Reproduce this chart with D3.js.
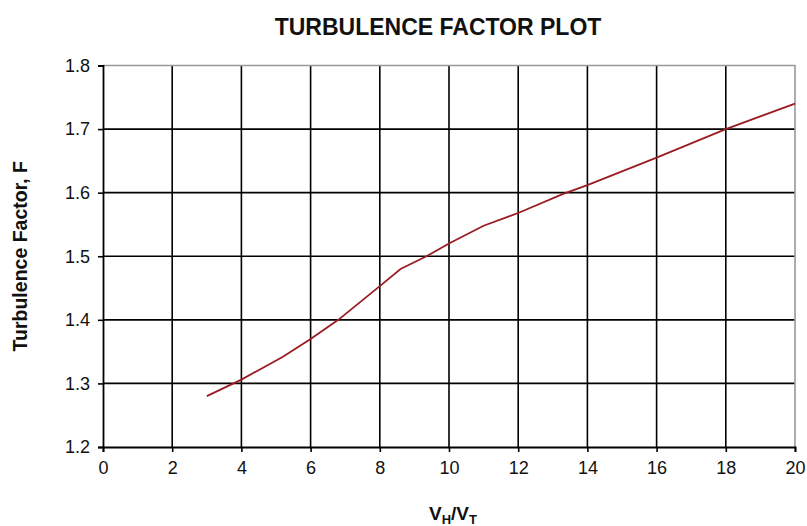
<!DOCTYPE html>
<html>
<head>
<meta charset="utf-8">
<script src="https://cdn.jsdelivr.net/npm/d3@7"></script>
<style>
  body { margin: 0; background: #fff; font-family: "Liberation Sans", Arial, sans-serif; }
  svg { display: block; }
</style>
</head>
<body>
<svg id="chart" width="807" height="526"></svg>
<script>
// data
const ratio = [3, 4, 5.2, 6, 6.8, 8, 8.6, 9.35, 10, 11, 12, 13.3, 14, 16, 18, 20]
const factor = [1.28, 1.306, 1.342, 1.37, 1.40, 1.453, 1.48, 1.50, 1.52, 1.548, 1.568, 1.598, 1.612, 1.655, 1.70, 1.74]
const xTicks = [0, 2, 4, 6, 8, 10, 12, 14, 16, 18, 20]
const yTicks = [1.2, 1.3, 1.4, 1.5, 1.6, 1.7, 1.8]

const margin = { top: 65.5, right: 12, bottom: 79, left: 103 }
const width = 807, height = 526
const w = width - margin.left - margin.right
const h = height - margin.top - margin.bottom

const svg = d3.select("#chart")
const g = svg.append("g").attr("transform", `translate(${margin.left},${margin.top})`)

const x = d3.scaleLinear().domain([0, 20]).range([0, w])
const y = d3.scaleLinear().domain([1.2, 1.8]).range([h, 0])

// grid
g.append("g").selectAll("line")
  .data(xTicks.slice(1, -1))
  .join("line")
    .attr("x1", d => x(d)).attr("x2", d => x(d))
    .attr("y1", 0).attr("y2", h)
    .attr("stroke", "#000").attr("stroke-width", 1.6)

g.append("g").selectAll("line")
  .data(yTicks.slice(1, -1))
  .join("line")
    .attr("x1", 0).attr("x2", w)
    .attr("y1", d => y(d)).attr("y2", d => y(d))
    .attr("stroke", "#000").attr("stroke-width", 1.6)

// gray top/right border
g.append("path")
  .attr("d", `M0,${y(1.8)}H${x(20)}V${y(1.2)}`)
  .attr("fill", "none").attr("stroke", "#999").attr("stroke-width", 1.6)

// axes
const xAxis = g.append("g")
  .attr("transform", `translate(0,${h})`)
  .call(d3.axisBottom(x).tickValues(xTicks).tickSize(5).tickPadding(9).tickFormat(d3.format("d")))
const yAxis = g.append("g")
  .call(d3.axisLeft(y).tickValues(yTicks).tickSize(5).tickPadding(8).tickFormat(d3.format(".1f")))

;[xAxis, yAxis].forEach(a => {
  a.select(".domain").attr("stroke", "#000").attr("stroke-width", 1.8)
  a.selectAll(".tick line").attr("stroke", "#000").attr("stroke-width", 1.6)
  a.selectAll("text")
    .attr("fill", "#111")
    .style("font-family", "'Liberation Sans', Arial, sans-serif")
    .style("font-size", "18px")
})

// series
const pts = ratio.map((r, i) => ({ r: r, f: factor[i] }))
g.append("path")
  .datum(pts)
  .attr("fill", "none")
  .attr("stroke", "#9a1c20")
  .attr("stroke-width", 1.8)
  .attr("d", d3.line().x(d => x(d.r)).y(d => y(d.f)))

// title and labels
svg.append("text")
  .attr("x", 438).attr("y", 35)
  .attr("text-anchor", "middle")
  .style("font-size", "23px").style("font-weight", "bold")
  .attr("fill", "#111")
  .text("TURBULENCE FACTOR PLOT")

svg.append("text")
  .attr("transform", `translate(27,${margin.top + h / 2}) rotate(-90)`)
  .attr("text-anchor", "middle")
  .style("font-size", "19.5px").style("font-weight", "bold")
  .attr("fill", "#111")
  .text("Turbulence Factor, F")

const xl = svg.append("text")
  .attr("x", margin.left + w / 2 + 4).attr("y", 520)
  .attr("text-anchor", "middle")
  .style("font-size", "19px").style("font-weight", "bold")
  .attr("fill", "#111")
xl.append("tspan").text("V")
xl.append("tspan").attr("dy", 4).style("font-size", "13px").text("H")
xl.append("tspan").attr("dy", -4).text("/V")
xl.append("tspan").attr("dy", 4).style("font-size", "13px").text("T")
</script>
</body>
</html>
